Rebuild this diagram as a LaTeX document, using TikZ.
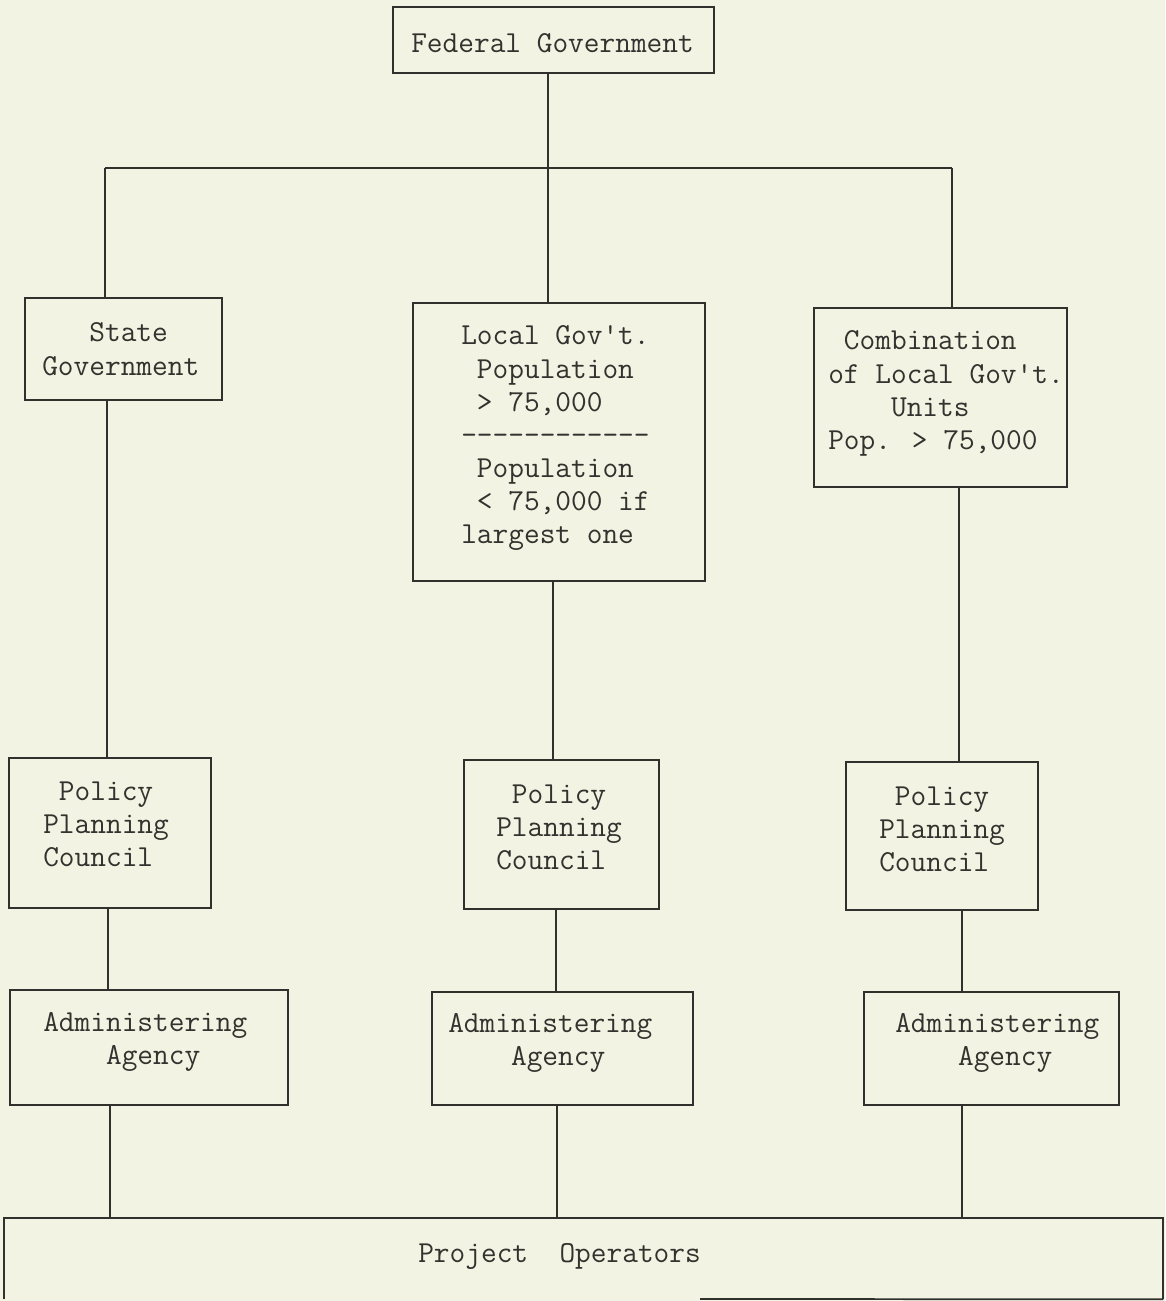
\documentclass[tikz,border=0pt]{standalone}
\usepackage{fontspec}
\usetikzlibrary{fit}
\definecolor{paper}{RGB}{242,243,226}
\definecolor{ink}{RGB}{48,48,44}
\definecolor{typeink}{RGB}{50,50,46}
\newcommand\ind[1]{\phantom{#1}}
% a block of typed lines whose baseline is that of its first line
\newcommand\typed[1]{\begin{tabular}[t]{@{}l@{}}#1\end{tabular}}
\begin{document}
\begin{tikzpicture}[x=0.75pt,y=-0.75pt,
  orgbox/.style={draw=ink, line width=1.3pt, inner sep=0pt},
  wire/.style={draw=ink, line width=1.3pt},
  typing/.style={inner sep=0pt, anchor=base west, text=typeink,
    font=\ttfamily\fontsize{22.86}{24.75}\selectfont\addfontfeature{FakeBold=0.8}}]
\fill[paper] (0,0) rectangle (1165,1301);
\useasboundingbox (0,0) rectangle (1165,1301);

% boxes
\node[orgbox, fit={(393,7) (714,73)}] (fed) {};
\node[orgbox, fit={(25,298) (222,400)}] (state) {};
\node[orgbox, fit={(413,303) (705,581)}] (local) {};
\node[orgbox, fit={(814,308) (1067,487)}] (comb) {};
\node[orgbox, fit={(9,758) (211,908)}] (polL) {};
\node[orgbox, fit={(464,760) (659,909)}] (polM) {};
\node[orgbox, fit={(846,762) (1038,910)}] (polR) {};
\node[orgbox, fit={(10,990) (288,1105)}] (admL) {};
\node[orgbox, fit={(432,992) (693,1105)}] (admM) {};
\node[orgbox, fit={(864,992) (1119,1105)}] (admR) {};

% project operators box, open along its lower left
\node[draw=none, inner sep=0pt, fit={(4,1218) (1163,1299)}] (proj) {};
\draw[wire] (proj.south west) -- (proj.north west) -- (proj.north east) -- (proj.south east);
\coordinate (pbot) at (700,1299);
\draw[wire] (pbot) -- (proj.south east);

% box texts
\node[typing] (fedT) at (411,53) {Federal Government};
\node[typing] (stateT) at (42,342) {\typed{\ind{XXX}State\\Government}};
\node[typing] (localT) at (461,345)
  {\typed{Local Gov't.\\\ind{X}Population\\\ind{X}> 75,000\\------------\\\ind{X}Population\\\ind{X}< 75,000 if\\largest one}};
\node[typing] (combT) at (828,350)
  {\typed{\ind{X}Combination\\of Local Gov't.\\\ind{XXXX}Units\\Pop. > 75,000}};
\node[typing] (polLT) at (43,800) {\typed{\ind{X}Policy\\Planning\\Council}};
\node[typing] (polMT) at (496,803) {\typed{\ind{X}Policy\\Planning\\Council}};
\node[typing] (polRT) at (879,805) {\typed{\ind{X}Policy\\Planning\\Council}};
\node[typing] (admLT) at (43,1031) {\typed{Administering\\\ind{XXXX}Agency}};
\node[typing] (admMT) at (448,1032) {\typed{Administering\\\ind{XXXX}Agency}};
\node[typing] (admRT) at (895,1032) {\typed{Administering\\\ind{XXXX}Agency}};
\node[typing] (projT) at (418,1262) {Project\ \ Operators};

% branch bar under the federal box
\coordinate (barL) at (105,168);
\coordinate (barM) at (548,168);
\coordinate (barR) at (952,168);
\draw[wire] (barL) -- (barR);
\draw[wire] (barM |- fed.south) -- (barM);
\draw[wire] (barL) -- (barL |- state.north);
\draw[wire] (barM) -- (barM |- local.north);
\draw[wire] (barR) -- (barR |- comb.north);

% columns down to the councils
\coordinate (c1) at (107,0);
\coordinate (c2) at (553,0);
\coordinate (c3) at (959,0);
\draw[wire] (c1 |- state.south) -- (c1 |- polL.north);
\draw[wire] (c2 |- local.south) -- (c2 |- polM.north);
\draw[wire] (c3 |- comb.south) -- (c3 |- polR.north);

% councils to agencies
\coordinate (d1) at (108,0);
\coordinate (d2) at (556,0);
\coordinate (d3) at (962,0);
\draw[wire] (d1 |- polL.south) -- (d1 |- admL.north);
\draw[wire] (d2 |- polM.south) -- (d2 |- admM.north);
\draw[wire] (d3 |- polR.south) -- (d3 |- admR.north);

% agencies to project operators
\coordinate (e1) at (110,0);
\coordinate (e2) at (557,0);
\coordinate (e3) at (962,0);
\draw[wire] (e1 |- admL.south) -- (e1 |- proj.north);
\draw[wire] (e2 |- admM.south) -- (e2 |- proj.north);
\draw[wire] (e3 |- admR.south) -- (e3 |- proj.north);
\end{tikzpicture}
\end{document}
